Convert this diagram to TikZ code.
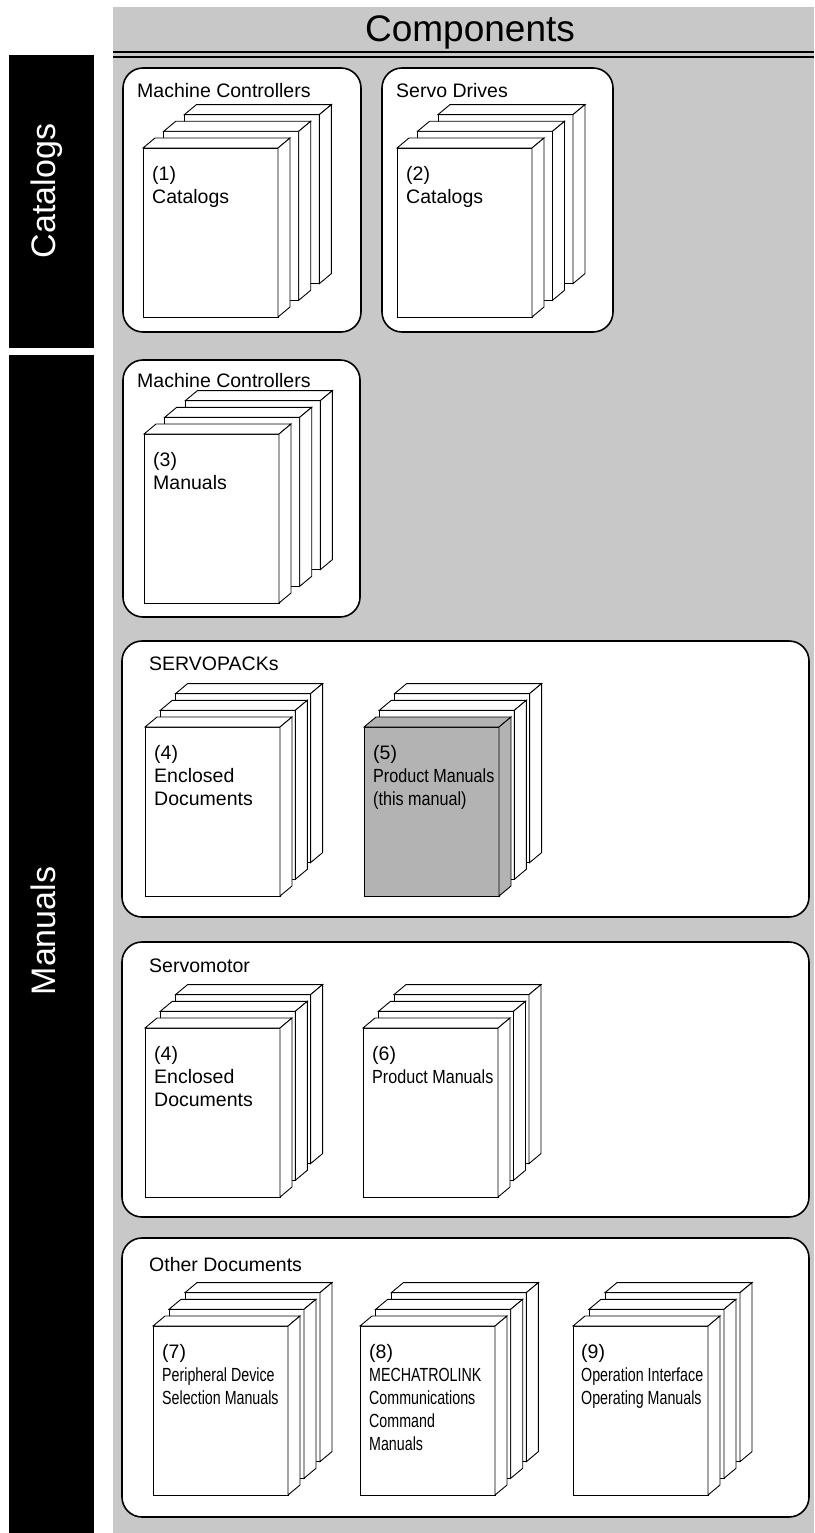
\documentclass[tikz,border=0pt]{standalone}
\usepackage{fontspec}
\setmainfont{Liberation Sans}
\newfontfamily\narrowfont[FakeStretch=0.75]{Liberation Sans}
\newfontfamily\semifont[FakeStretch=0.85]{Liberation Sans}
\usepackage{tikz}
\definecolor{panelgray}{RGB}{200,200,200}
\definecolor{bookgray}{RGB}{179,179,179}
\newcommand{\narrowtext}{\narrowfont\fontsize{19}{23}\selectfont}
\newcommand{\semitext}{\semifont\fontsize{19}{23}\selectfont}
\newcommand{\docbook}[1]{\filldraw[booklines, fill=#1] (0,0) rectangle (135,169);
        			\filldraw[booklines, fill=#1] (0,0) -- (12,-10) -- (147,-10) -- (135,0) -- cycle;
        			\filldraw[booklines, fill=#1] (135,0) -- (147,-10) -- (147,159) -- (135,169) -- cycle;}
\newcommand{\bookstack}[4]{\begin{scope}[shift={({#1+2*#3},{#2-33.4})}]
						\docbook{white}
					\end{scope}
					\begin{scope}[shift={({#1+#3},{#2-16.7})}]
						\docbook{white}
					\end{scope}
					\begin{scope}[shift={(#1,#2)}]
						\docbook{#4}
					\end{scope}}
\tikzset{
	groupbox/.style={fill=white, draw=black, line width=1.6pt, rounded corners=20pt},
	grouplabel/.style={anchor=base west, inner sep=0pt, font=\fontsize{19.5}{23}\selectfont},
	booktext/.style={anchor=north west, inner sep=0pt, align=left, font=\fontsize{19.5}{23}\selectfont},
	sidelabel/.style={anchor=base, inner sep=0pt, text=white, rotate=90, font=\fontsize{34}{40}\selectfont},
	booklines/.style={draw=black, line width=0.9pt}
}

\begin{document}
\begin{tikzpicture}[x=1pt, y=-1pt]

					\useasboundingbox (0,0) rectangle (814,1533);
					\fill[white] (0,0) rectangle (814,1533);
					\fill[panelgray] (113,7) rectangle (814,1533);

					% side bars
					\fill[black] (9,55) rectangle (94,348);
					\fill[black] (9,355) rectangle (94,1533);
					\node[sidelabel] (catalogs) at (55,191) {Catalogs};
					\node[sidelabel] (manuals) at (55,931) {Manuals};

					% header
					\node[anchor=base, inner sep=0pt, font=\fontsize{37}{42}\selectfont] (components) at (470,42) {Components};
					\draw[line width=2.2pt] (113,52) -- (814,52);
					\draw[line width=2.2pt] (113,57) -- (814,57);

					% catalogs
					\draw[groupbox] (123,68) rectangle (361,332);
					\node[grouplabel] (mcCatTitle) at (137,98) {Machine Controllers};
					\bookstack{143}{148}{20.7}{white}
					\node[booktext] (mcCatBook) at (152,166) {(1)\\Catalogs};

					\draw[groupbox] (382,68) rectangle (613,332);
					\node[grouplabel] (sdCatTitle) at (396,98) {Servo Drives};
					\bookstack{397}{148}{20.5}{white}
					\node[booktext] (sdCatBook) at (406,166) {(2)\\Catalogs};

					% manuals
					\draw[groupbox] (123,360) rectangle (360,617);
					\node[grouplabel] (mcManTitle) at (137,387) {Machine Controllers};
					\bookstack{144}{434}{20.7}{white}
					\node[booktext] (mcManBook) at (153,452) {(3)\\Manuals};

					\draw[groupbox] (122,641) rectangle (809,917);
					\node[grouplabel] (spTitle) at (149,670) {SERVOPACKs};
					\bookstack{145}{727}{15.3}{white}
					\node[booktext] (spEncBook) at (154,745) {(4)\\Enclosed\\Documents};
					\bookstack{364}{727}{15.3}{bookgray}
					\node[booktext] (spProdBook) at (373,745) {(5)\\{\semitext Product Manuals}\\{\semitext (this manual)}};

					\draw[groupbox] (122,942) rectangle (809,1217);
					\node[grouplabel] (smTitle) at (149,972) {Servomotor};
					\bookstack{145}{1028}{15.3}{white}
					\node[booktext] (smEncBook) at (154,1046) {(4)\\Enclosed\\Documents};
					\bookstack{363}{1028}{15.5}{white}
					\node[booktext] (smProdBook) at (372,1046) {(6)\\{\semitext Product Manuals}};

					\draw[groupbox] (122,1238) rectangle (809,1517);
					\node[grouplabel] (otherTitle) at (149,1271) {Other Documents};
					\bookstack{153}{1326}{16}{white}
					\node[booktext] (periBook) at (162,1344) {(7)\\{\narrowtext Peripheral Device}\\{\narrowtext Selection Manuals}};
					\bookstack{360}{1326}{15.7}{white}
					\node[booktext] (mlinkBook) at (369,1344) {(8)\\{\narrowtext MECHATROLINK}\\{\narrowtext Communications}\\{\narrowtext Command}\\{\narrowtext Manuals}};
					\bookstack{573}{1326}{16}{white}
					\node[booktext] (opBook) at (581,1344) {(9)\\{\narrowtext Operation Interface}\\{\narrowtext Operating Manuals}};

\end{tikzpicture}
\end{document}
